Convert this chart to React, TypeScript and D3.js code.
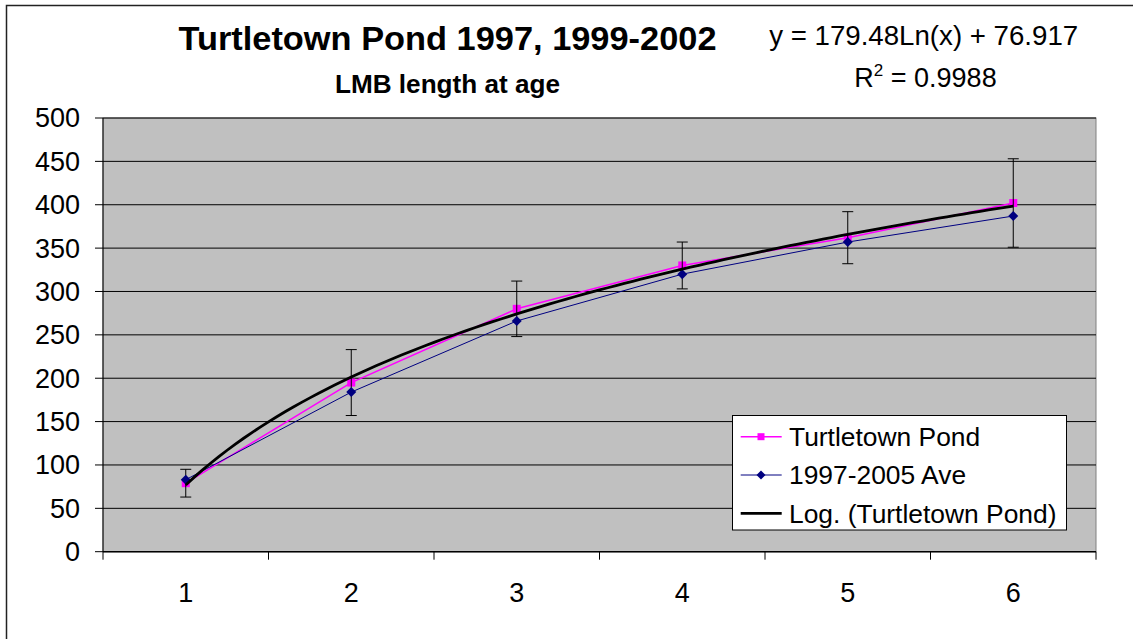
import React from "react";
import * as d3 from "d3";

const ages = [1, 2, 3, 4, 5, 6];
const turtletown = [79, 195, 280, 330, 362, 402];
const turtletownErr = [16, 38, 32, 27, 30, 51];
const average = [83, 184, 266, 320, 357, 387];
const yTicks = [0, 50, 100, 150, 200, 250, 300, 350, 400, 450, 500];
const trendSlope = 179.48;
const trendIntercept = 76.917;
const seriesNames = ["Turtletown Pond", "1997-2005 Ave", "Log. (Turtletown Pond)"];
const titleText = "Turtletown Pond 1997, 1999-2002";
const subtitleText = "LMB length at age";

const W = 1133;
const H = 639;
const plot = { left: 103, right: 1096, top: 118, bottom: 551.7 };
const FONT = "'Liberation Sans', Arial, sans-serif";

export default function App() {
  const xBand = d3
    .scaleBand<number>()
    .domain(ages)
    .range([plot.left, plot.right])
    .padding(0);
  const cx = (a: number) => (xBand(a) as number) + xBand.bandwidth() / 2;
  const y = d3.scaleLinear().domain([0, 500]).range([plot.bottom, plot.top]);

  const line = d3
    .line<[number, number]>()
    .x((d) => cx(d[0]))
    .y((d) => y(d[1]));

  const tLine = line(ages.map((a, i) => [a, turtletown[i]]));
  const aLine = line(ages.map((a, i) => [a, average[i]]));

  // continuous x for trendline
  const xCont = d3.scaleLinear().domain([1, 6]).range([cx(1), cx(6)]);
  const trendPts: [number, number][] = d3
    .range(1, 6.0001, 0.05)
    .map((v) => [v, trendSlope * Math.log(v) + trendIntercept]);
  const trendPath = d3
    .line<[number, number]>()
    .x((d) => xCont(d[0]))
    .y((d) => y(d[1]))(trendPts);

  const boundaries = d3.range(ages.length + 1).map((i) => plot.left + i * xBand.bandwidth());

  const sq = (x: number, yy: number, s: number) => (
    <rect x={x - s / 2} y={yy - s / 2} width={s} height={s} fill="#FF00FF" />
  );
  const dia = (x: number, yy: number, r: number) => (
    <path d={`M${x},${yy - r}L${x + r},${yy}L${x},${yy + r}L${x - r},${yy}Z`} fill="#000080" />
  );

  const legX = 732.5;
  const legY = 415.5;
  const legW = 334;
  const legH = 114.5;
  const legRows = [436.7, 475, 513.3];

  return (
    <svg
      width={W}
      height={H}
      style={{ position: "absolute", left: 0, top: 0, background: "#fff" }}
      fontFamily={FONT}
    >
      <rect x={0} y={0} width={W} height={H} fill="#fff" />
      {/* chart border */}
      <rect x={6.5} y={5.5} width={W + 20} height={H + 20} fill="none" stroke="#222" strokeWidth={1.5} />

      {/* titles */}
      <text x={447.5} y={50} textAnchor="middle" fontWeight="bold" fontSize={34} textLength={538} lengthAdjust="spacingAndGlyphs">
        {titleText}
      </text>
      <text x={447.5} y={93.3} textAnchor="middle" fontWeight="bold" fontSize={26} textLength={225} lengthAdjust="spacingAndGlyphs">
        {subtitleText}
      </text>

      {/* equation */}
      <text x={923.7} y={45} textAnchor="middle" fontSize={27.5} textLength={309} lengthAdjust="spacingAndGlyphs">
        {`y = ${trendSlope}Ln(x) + ${trendIntercept}`}
      </text>
      <text x={925.5} y={86.7} textAnchor="middle" fontSize={27}>
        R<tspan fontSize={17} dy={-11}>2</tspan>
        <tspan dy={11}> = 0.9988</tspan>
      </text>

      {/* plot area */}
      <rect
        x={plot.left}
        y={plot.top}
        width={plot.right - plot.left}
        height={plot.bottom - plot.top}
        fill="#C0C0C0"
        stroke="#808080"
        strokeWidth={1}
      />
      {/* gridlines */}
      {yTicks
        .filter((t) => t > 0)
        .map((t) => (
          <line key={t} x1={plot.left} x2={plot.right} y1={y(t)} y2={y(t)} stroke="#000" strokeWidth={1} />
        ))}

      {/* y axis */}
      <line x1={plot.left} x2={plot.left} y1={plot.top} y2={plot.bottom} stroke="#000" strokeWidth={1} />
      {yTicks.map((t) => (
        <g key={t}>
          <line x1={plot.left - 8} x2={plot.left} y1={y(t)} y2={y(t)} stroke="#000" strokeWidth={1} />
          <text x={80} y={y(t)} dy="0.35em" textAnchor="end" fontSize={27}>
            {t}
          </text>
        </g>
      ))}

      {/* x axis */}
      <line x1={plot.left} x2={plot.right} y1={plot.bottom} y2={plot.bottom} stroke="#000" strokeWidth={1.5} />
      {boundaries.map((b, i) => (
        <line key={i} x1={b} x2={b} y1={plot.bottom} y2={plot.bottom + 8} stroke="#000" strokeWidth={1} />
      ))}
      {ages.map((a) => (
        <text key={a} x={cx(a)} y={592.7} dy="0.35em" textAnchor="middle" fontSize={27}>
          {a}
        </text>
      ))}

      {/* Turtletown series */}
      <path d={tLine || ""} fill="none" stroke="#FF00FF" strokeWidth={1.5} />
      {ages.map((a, i) => (
        <g key={a}>{sq(cx(a), y(turtletown[i]), 8)}</g>
      ))}

      {/* error bars */}
      {ages.map((a, i) => {
        const x0 = cx(a);
        const hi = y(turtletown[i] + turtletownErr[i]);
        const lo = y(turtletown[i] - turtletownErr[i]);
        return (
          <g key={a} stroke="#000" strokeWidth={1}>
            <line x1={x0} x2={x0} y1={hi} y2={lo} />
            <line x1={x0 - 5.5} x2={x0 + 5.5} y1={hi} y2={hi} />
            <line x1={x0 - 5.5} x2={x0 + 5.5} y1={lo} y2={lo} />
          </g>
        );
      })}

      {/* average series */}
      <path d={aLine || ""} fill="none" stroke="#000080" strokeWidth={1} />
      {ages.map((a, i) => (
        <g key={a}>{dia(cx(a), y(average[i]), 5)}</g>
      ))}

      {/* trendline */}
      <path d={trendPath || ""} fill="none" stroke="#000" strokeWidth={2.8} />

      {/* legend */}
      <rect x={legX} y={legY} width={legW} height={legH} fill="#fff" stroke="#000" strokeWidth={1} />
      {/* row 1 */}
      <line x1={740.7} x2={781.7} y1={legRows[0]} y2={legRows[0]} stroke="#FF00FF" strokeWidth={1.5} />
      {sq(761, legRows[0], 7)}
      {/* row 2 */}
      <line x1={740.7} x2={781.7} y1={legRows[1]} y2={legRows[1]} stroke="#000080" strokeWidth={1} />
      {dia(761, legRows[1], 4.5)}
      {/* row 3 */}
      <line x1={740.7} x2={781.7} y1={legRows[2]} y2={legRows[2]} stroke="#000" strokeWidth={2.8} />
      {seriesNames.map((n, i) => (
        <text key={n} x={789} y={legRows[i]} dy="0.35em" fontSize={26.4}>
          {n}
        </text>
      ))}
    </svg>
  );
}
